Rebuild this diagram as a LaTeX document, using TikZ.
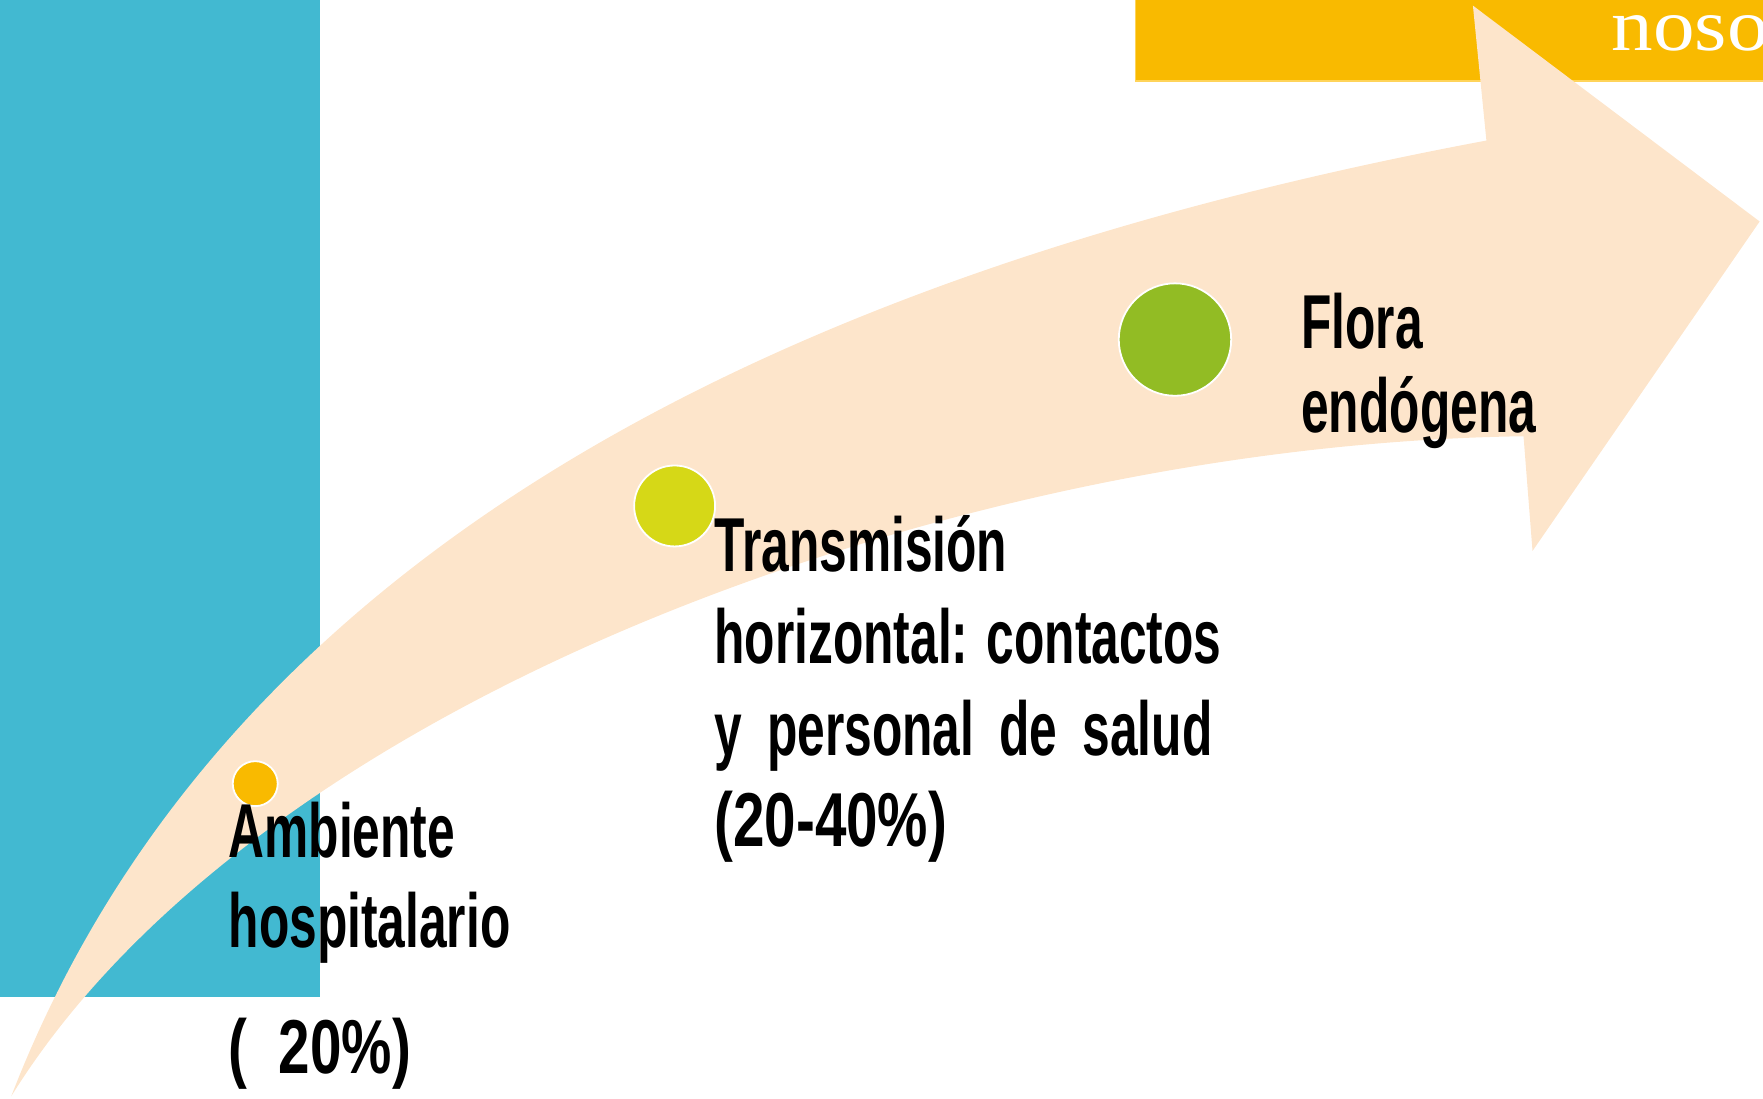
\documentclass[tikz,border=0pt]{standalone}
\usepackage{fontspec}
\setmainfont{Liberation Sans}
\newfontfamily\labfont[FakeStretch=0.65]{Liberation Sans Bold}
\newfontfamily\numfont[FakeStretch=0.74]{Liberation Sans Bold}
\newfontfamily\serfont[FakeStretch=1.12]{Liberation Serif}
\definecolor{cblue}{RGB}{66,185,209}
\definecolor{cyel}{RGB}{249,186,0}
\definecolor{cyeledge}{RGB}{255,212,90}
\definecolor{cpeach}{RGB}{253,229,203}
\definecolor{clime}{RGB}{214,216,23}
\definecolor{cgreen}{RGB}{146,188,36}
\begin{document}
\begin{tikzpicture}[x=0.5pt,y=-0.5pt,
  lab/.style={anchor=base west, inner sep=0pt, text=black,
    font=\labfont\fontsize{34pt}{41pt}\selectfont},
  numlab/.style={lab, font=\numfont\fontsize{34pt}{41pt}\selectfont},
  dot/.style={circle, draw=white, line width=0.8pt, inner sep=0pt}]
\useasboundingbox (0,0) rectangle (1568,977);
% blue panel
\fill[cblue] (0,0) rectangle (285,887);
% yellow title bar
\fill[cyel, draw=cyeledge, line width=0.6pt] (1010,-5) rectangle (1575,72);
\node[anchor=base west, inner sep=0pt, text=white,
  font=\serfont\fontsize{33pt}{40pt}\selectfont] (title) at (1433,45) {noso};
% curved arrow
\fill[cpeach] (10,975) .. controls (175,548) and (600,260) .. (1322,125)
  -- (1310,5) -- (1565,197) -- (1363,490) -- (1355,388)
  .. controls (855,395) and (230,620) .. (10,975) -- cycle;
% dots
\node[dot, fill=cyel, minimum size=20pt] (d1) at (227,697) {};
\node[dot, fill=clime, minimum size=36pt] (d2) at (600,450) {};
\node[dot, fill=cgreen, minimum size=50pt] (d3) at (1045,302) {};
% labels
\node[lab] (a1) at (203,763) {Ambiente};
\node[lab] (a2) at (203,843) {hospitalario};
\node[numlab] (a3) at (203,955) {(\ \ 20\%)};
\node[lab] (t1) at (635,508) {Transmisión};
\node[lab] (t2) at (635,590) {horizontal: contactos};
\node[lab] (t3) at (635,672) {\setbox0\hbox{horizontal: contactos}\makebox[\dimexpr\wd0-4pt\relax][s]{y personal de salud}};
\node[numlab] (t4) at (635,753) {(20-40\%)};
\node[lab] (f1) at (1157,310) {Flora};
\node[lab] (f2) at (1157,385) {endógena};
\end{tikzpicture}
\end{document}
